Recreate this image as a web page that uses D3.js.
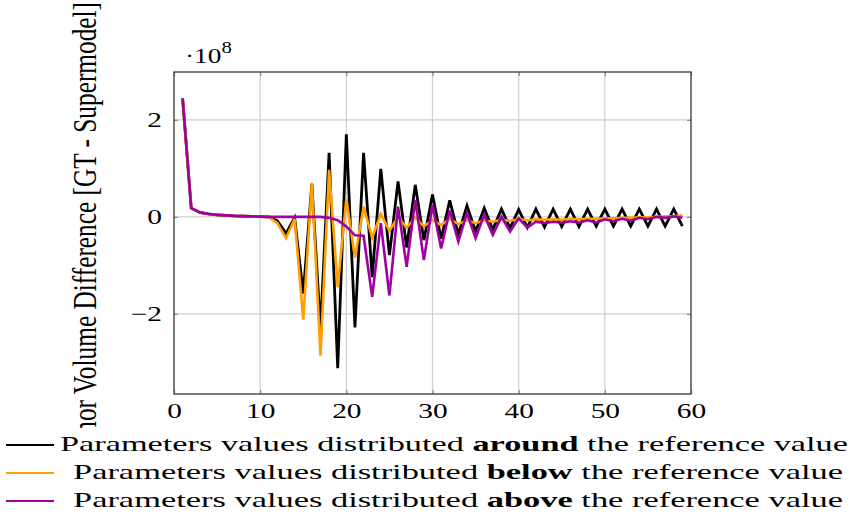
<!DOCTYPE html>
<html><head><meta charset="utf-8">
<script src="https://cdn.jsdelivr.net/npm/d3@7/dist/d3.min.js"></script>
<style>
html,body{margin:0;padding:0;background:#fff;}
text{font-family:"Liberation Serif","Times New Roman",serif;fill:#000;}
</style></head>
<body>
<svg id="chart" width="856" height="517"></svg>
<script>
// ---- data (values in units of 1e8) ----
const xValues = d3.range(1, 60);
const around = [2.44,0.18,0.09,0.06,0.04,0.03,0.02,0.015,0.01,0.005,0.0,-0.08,-0.34,-0.02,-1.58,0.68,-2.3,1.32,-3.12,1.70,
  -2.28,1.32,-1.24,0.99,-0.79,0.73,-0.63,0.66,-0.48,0.46,-0.45,0.34,-0.36,0.23,-0.3,0.18,-0.26,0.16,-0.23,0.15,
  -0.22,0.16,-0.21,0.16,-0.2,0.16,-0.2,0.16,-0.19,0.16,-0.19,0.16,-0.19,0.16,-0.19,0.16,-0.19,0.16,-0.19];
const below = [2.44,0.18,0.09,0.06,0.04,0.03,0.02,0.015,0.01,0.005,0.0,-0.13,-0.44,-0.04,-2.12,0.70,-2.86,0.97,-1.45,0.37,
  -0.84,0.21,-0.43,0.06,-0.29,0.0,-0.23,-0.01,-0.2,-0.06,-0.17,-0.04,-0.15,-0.07,-0.13,-0.07,-0.1,-0.06,-0.08,-0.05,
  -0.07,-0.05,-0.06,-0.05,-0.06,-0.04,-0.05,-0.04,-0.04,-0.03,-0.03,-0.02,-0.02,-0.01,-0.01,0.0,0.01,0.01,0.03];
const above = [2.44,0.18,0.09,0.06,0.04,0.03,0.02,0.015,0.01,0.005,0.0,0.0,0.0,0.0,0.0,0.0,0.0,-0.02,-0.07,-0.2,
  -0.38,-0.39,-1.65,-0.13,-1.62,0.21,-1.03,0.35,-0.89,0.25,-0.65,0.13,-0.51,0.08,-0.44,0.04,-0.37,0.0,-0.3,-0.03,
  -0.22,-0.1,-0.13,-0.1,-0.12,-0.09,-0.12,-0.07,-0.12,-0.05,-0.09,-0.04,-0.08,-0.02,-0.05,0.0,-0.02,0.01,-0.02];
const xTicks = [0,10,20,30,40,50,60];
const yTicks = [-2,0,2];
const seriesNames = ["around","below","above"];
const seriesColors = ["#000000","#ff9f00","#a000a0"];
const yLabel = "Tumor Volume Difference [GT - Supermodel]";

const svg = d3.select("#chart");
const L = 174, R = 691, T = 72, B = 394;
const x = d3.scaleLinear().domain([0,60]).range([L,R]);
const y = d3.scaleLinear().domain([-3.65,2.985]).range([B,T]);

function stretch(sel, f){
  sel.each(function(){
    const w = this.getComputedTextLength();
    d3.select(this).attr("textLength", w*f).attr("lengthAdjust","spacingAndGlyphs");
  });
}

// grid
svg.append("g").selectAll("line").data(xTicks.filter(d=>d>0&&d<60)).join("line")
  .attr("x1",d=>x(d)).attr("x2",d=>x(d)).attr("y1",T).attr("y2",B)
  .attr("stroke","#cfcfcf").attr("stroke-width",1.2);
svg.append("g").selectAll("line").data(yTicks).join("line")
  .attr("y1",d=>y(d)).attr("y2",d=>y(d)).attr("x1",L).attr("x2",R)
  .attr("stroke","#cfcfcf").attr("stroke-width",1.2);

// axes via d3 (inner ticks)
const xAxis = svg.append("g").attr("transform",`translate(0,${B})`)
  .call(d3.axisBottom(x).tickValues(xTicks).tickSize(-4).tickFormat(d3.format("d")));
const xAxisTop = svg.append("g").attr("transform",`translate(0,${T})`)
  .call(d3.axisTop(x).tickValues(xTicks).tickSize(-4).tickFormat(""));
const yAxis = svg.append("g").attr("transform",`translate(${L},0)`)
  .call(d3.axisLeft(y).tickValues(yTicks).tickSize(-4).tickPadding(12).tickFormat(d=>d<0?"\u2212"+Math.abs(d):d));
const yAxisR = svg.append("g").attr("transform",`translate(${R},0)`)
  .call(d3.axisRight(y).tickValues(yTicks).tickSize(-4).tickFormat(""));
[xAxis,xAxisTop,yAxis,yAxisR].forEach(g=>{
  g.select(".domain").remove();
  g.selectAll(".tick line").attr("stroke","#888").attr("stroke-width",1.2);
  g.selectAll("text").attr("font-family","Liberation Serif").attr("font-size",21).attr("fill","#000");
});
xAxis.selectAll("text").attr("dy",null).attr("y",24);
yAxis.selectAll("text").attr("dy","0.33em");
stretch(xAxis.selectAll("text"),1.4);
stretch(yAxis.selectAll("text"),1.4);

// lines
const series = [around, below, above];
const line = d3.line().x((d,i)=>x(xValues[i])).y(d=>y(d));
series.forEach((s,k)=>{
  svg.append("path").datum(s).attr("d",line).attr("fill","none")
    .attr("stroke",seriesColors[k]).attr("stroke-width",k===0?2.8:2.6).attr("stroke-linejoin","miter");
});

// frame
svg.append("rect").attr("x",L).attr("y",T).attr("width",R-L).attr("height",B-T)
  .attr("fill","none").attr("stroke","#444").attr("stroke-width",1.4);

// scale label ·10^8
const sc = svg.append("text").attr("x",185).attr("y",63).attr("font-size",21);
sc.append("tspan").text("\u00b710");
sc.append("tspan").attr("dy",-10).attr("font-size",16).text("8");
stretch(sc,1.3);

// y label (rotated)
svg.append("text").attr("transform","translate(96,235) rotate(-90) scale(1,1.4)")
  .attr("text-anchor","middle").attr("font-size",24)
  .attr("textLength",466).attr("lengthAdjust","spacingAndGlyphs").text(yLabel);

// legend
const lg = svg.append("g");
lg.append("rect").attr("x",0).attr("y",428).attr("width",856).attr("height",89).attr("fill","#fff");
const legendY = [450.5, 478.5, 506.5];
const legendX = [60, 73, 73];
const legendW = [788, 770, 770];
seriesNames.forEach((name,i)=>{
  lg.append("line").attr("x1",6).attr("x2",54).attr("y1",legendY[i]-5.5).attr("y2",legendY[i]-5.5)
    .attr("stroke",seriesColors[i]).attr("stroke-width",2.2);
  const t = lg.append("text").attr("x",legendX[i]).attr("y",legendY[i]).attr("font-size",22)
    .attr("textLength",legendW[i]).attr("lengthAdjust","spacingAndGlyphs");
  t.append("tspan").text("Parameters values distributed ");
  t.append("tspan").attr("font-weight","bold").text(name);
  t.append("tspan").text(" the reference value");
});
</script>
</body></html>
